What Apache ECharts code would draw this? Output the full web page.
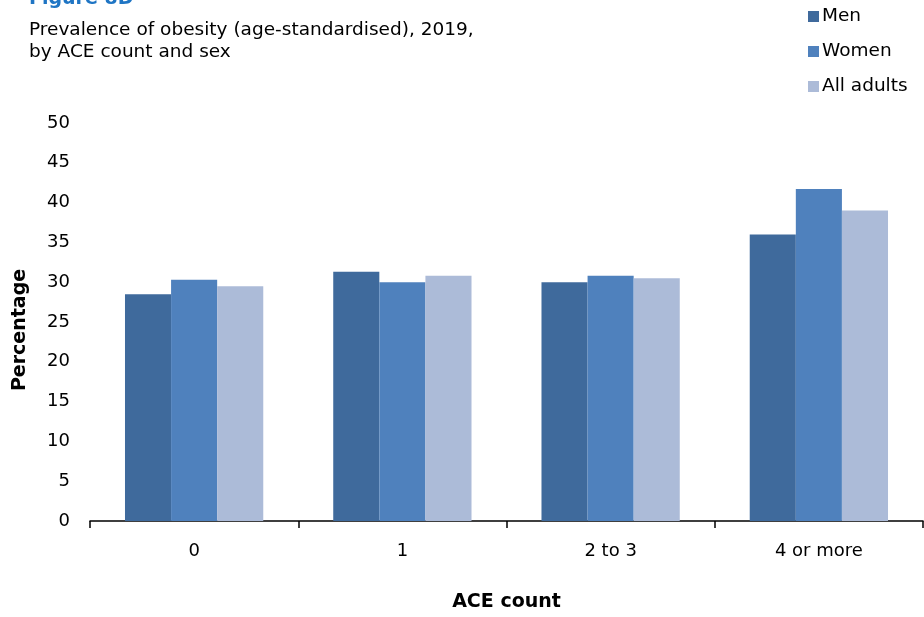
<!DOCTYPE html>
<html>
<head>
<meta charset="utf-8">
<script src="https://cdn.jsdelivr.net/npm/echarts@6/dist/echarts.min.js"></script>
<style>html,body{margin:0;padding:0;background:#fff;}#c{width:924px;height:617px;}</style>
</head>
<body>
<div id="c"></div>
<script>
const categories = ['0', '1', '2 to 3', '4 or more'];
const men = [28.5, 31.3, 30.0, 36.0];
const women = [30.3, 30.0, 30.8, 41.7];
const allAdults = [29.5, 30.8, 30.5, 39.0];
const seriesNames = ['Men', 'Women', 'All adults'];
const colors = ['#3f6a9c', '#4f81bd', '#acbbd8'];

const FONT = 'DejaVu Sans';
const chart = echarts.init(document.getElementById('c'));
chart.setOption({
  animation: false,
  textStyle: { fontFamily: FONT },
  title: [
    { text: 'Figure 8D', left: 24, top: -15, textStyle: { color: '#1f75c4', fontSize: 19, fontWeight: 'bold', fontFamily: FONT } },
    { text: 'Prevalence of obesity (age-standardised), 2019,\nby ACE count and sex', left: 24, top: 14,
      textStyle: { color: '#000', fontSize: 18.5, fontWeight: 'normal', lineHeight: 22, fontFamily: FONT } }
  ],
  legend: {
    orient: 'vertical', left: 803, top: 2, itemGap: 16, itemWidth: 11, itemHeight: 11,
    icon: 'rect', textStyle: { fontSize: 18.5, color: '#000', fontFamily: FONT, padding: [0,0,0,-2] },
    data: seriesNames
  },
  grid: { left: 90, right: 1, top: 123, bottom: 93 },
  xAxis: {
    type: 'category', data: categories,
    name: 'ACE count', nameLocation: 'middle', nameGap: 72,
    nameTextStyle: { fontSize: 19, fontWeight: 'bold', color: '#000', fontFamily: FONT },
    axisLine: { lineStyle: { color: '#000', width: 1.5 } },
    axisTick: { show: true, length: 7, lineStyle: { color: '#000', width: 1.5 } },
    axisLabel: { fontSize: 18, color: '#000', margin: 21, fontFamily: FONT }
  },
  yAxis: {
    type: 'value', min: 0, max: 50, interval: 5,
    name: 'Percentage', nameLocation: 'middle', nameGap: 60, nameRotate: 90,
    nameTextStyle: { fontSize: 19, fontWeight: 'bold', color: '#000', fontFamily: FONT, padding: [0, 16, 0, 0] },
    axisLine: { show: false }, axisTick: { show: false }, splitLine: { show: false },
    axisLabel: { fontSize: 18, color: '#000', margin: 20, fontFamily: FONT }
  },
  series: [
    { name: seriesNames[0], type: 'bar', data: men, itemStyle: { color: colors[0] }, barGap: '0%', barCategoryGap: '33.6%' },
    { name: seriesNames[1], type: 'bar', data: women, itemStyle: { color: colors[1] }, barGap: '0%', barCategoryGap: '33.6%' },
    { name: seriesNames[2], type: 'bar', data: allAdults, itemStyle: { color: colors[2] }, barGap: '0%', barCategoryGap: '33.6%' }
  ]
});
</script>
</body>
</html>
